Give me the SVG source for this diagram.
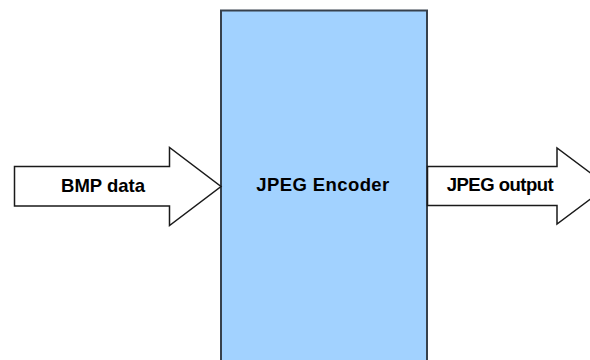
<svg xmlns="http://www.w3.org/2000/svg" width="590" height="360" viewBox="0 0 590 360">
<style>
.arrow{fill:#ffffff;stroke:#1a1a1a;stroke-width:1.5;stroke-linejoin:miter}
.box{fill:#a2d2ff;stroke:#37414c;stroke-width:2}
.lbl{font-family:"Liberation Sans",Arial,sans-serif;font-weight:bold;font-size:18.5px;fill:#000;text-anchor:middle}
</style>
<rect width="590" height="360" fill="#ffffff"/>
<g id="encoder">
<rect class="box" x="221" y="10.5" width="206" height="360"/>
<text class="lbl" x="323" y="191" letter-spacing="0.4">JPEG Encoder</text>
</g>
<g id="connectors">
<g id="bmp-arrow">
<polygon class="arrow" points="14.5,166.5 169.5,166.5 169.5,147.5 221,186.5 169.5,225.5 169.5,206 14.5,206"/>
<text class="lbl" x="103" y="192">BMP data</text>
</g>
<g id="jpeg-arrow">
<polygon class="arrow" points="427.5,166.5 557,166.5 557,148 608,186 557,224 557,205.5 427.5,205.5"/>
<text class="lbl" x="500" y="191" letter-spacing="-0.5">JPEG output</text>
</g>
</g>
</svg>
